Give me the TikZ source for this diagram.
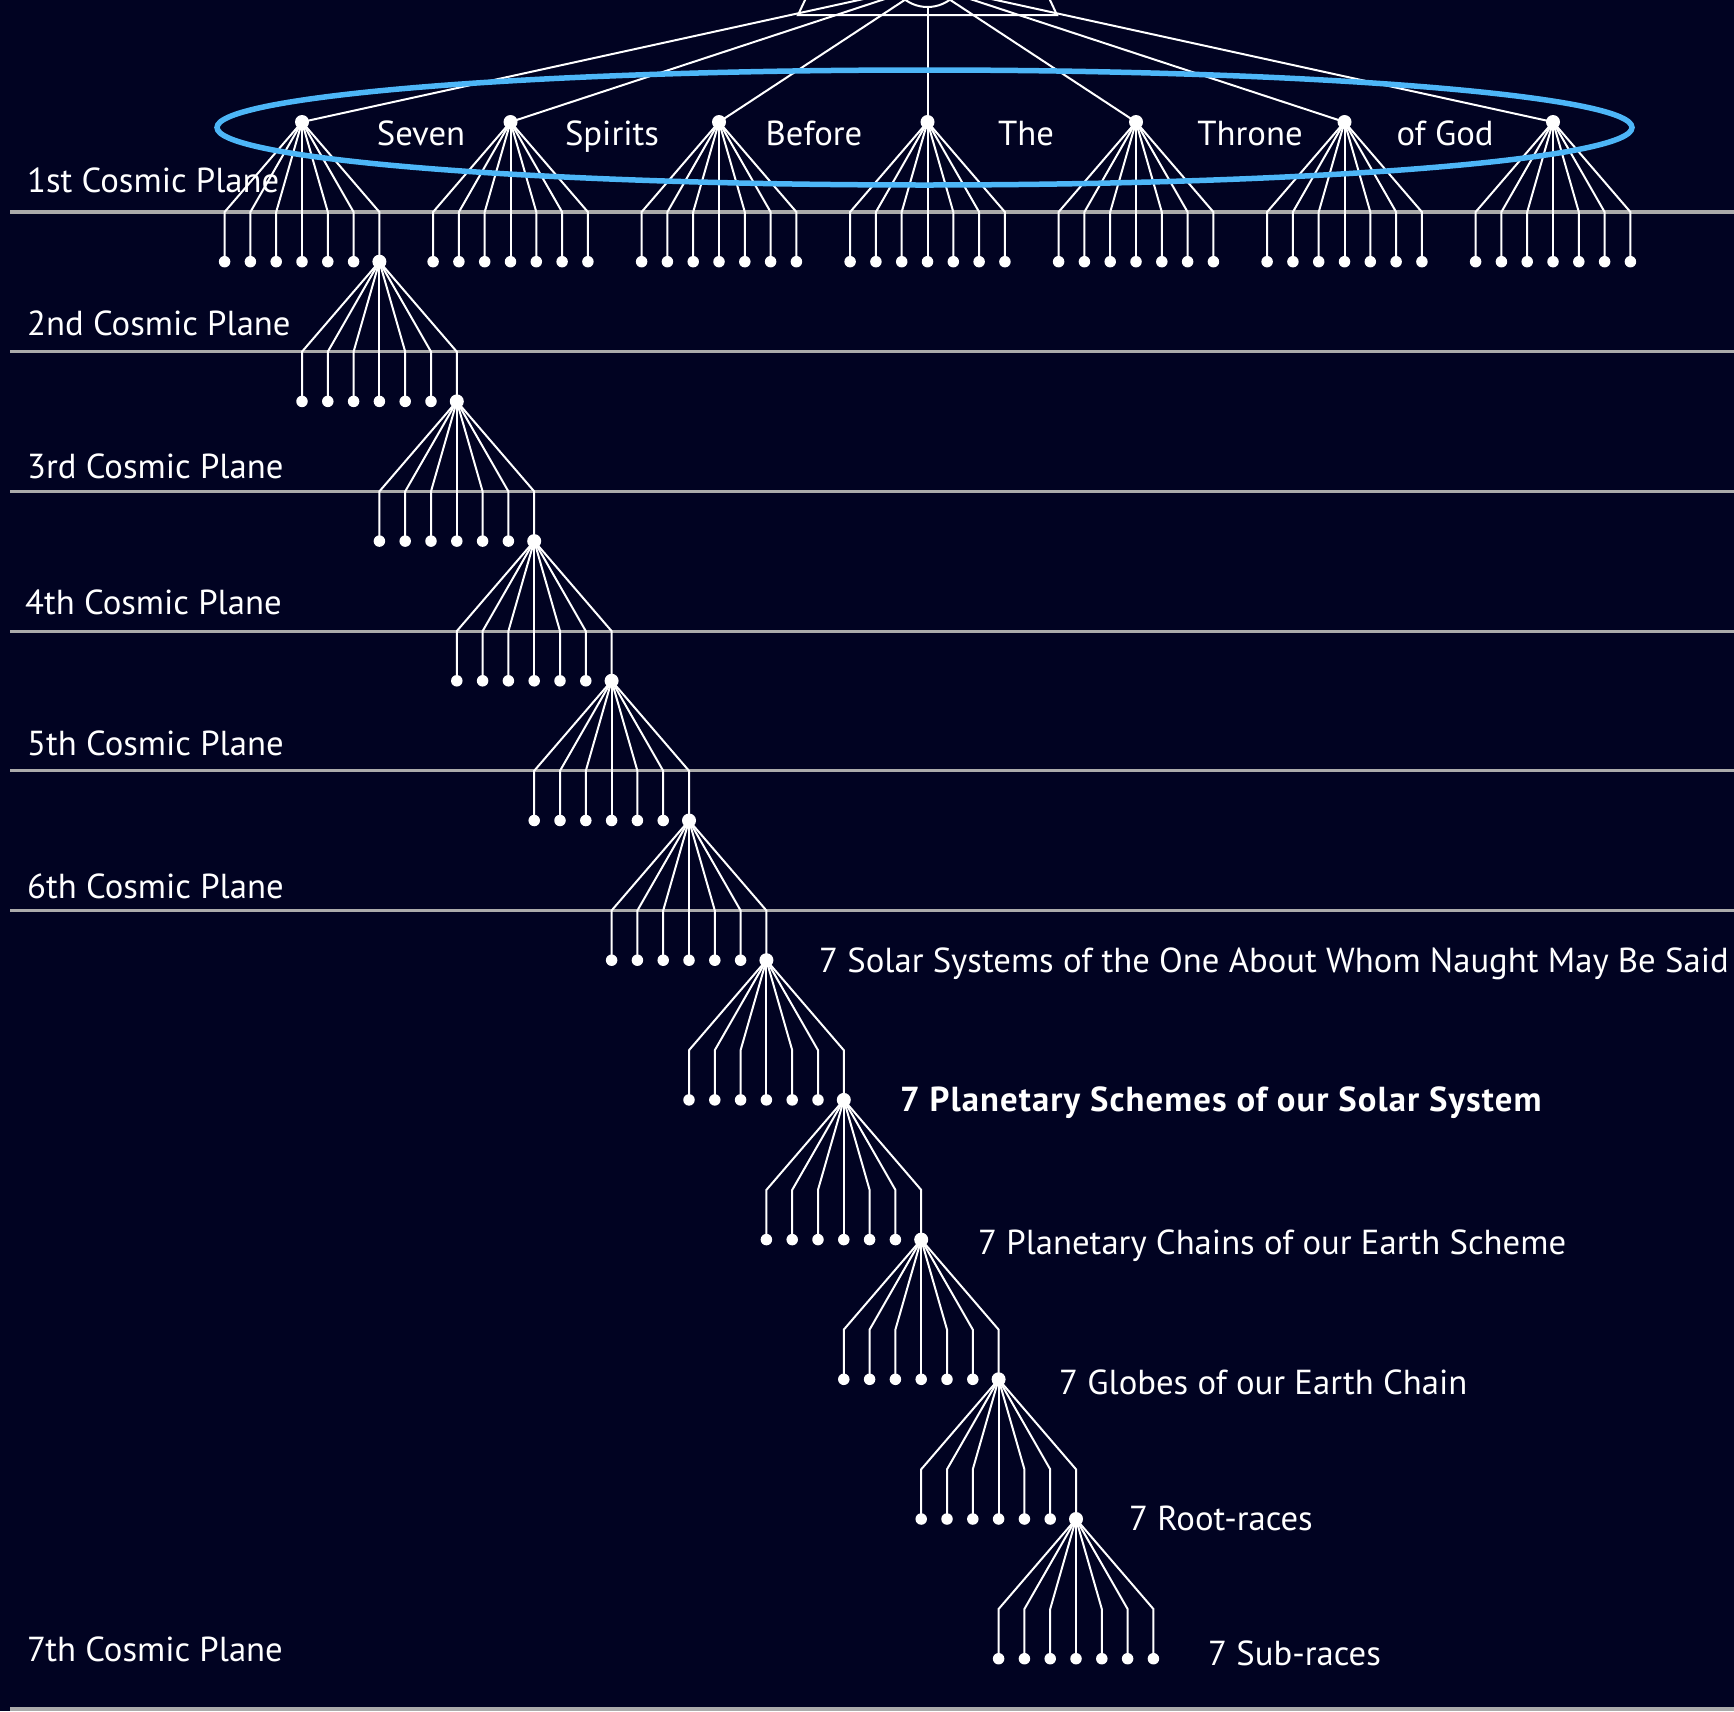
\documentclass[tikz,border=0pt]{standalone}
\usepackage{fontspec}
\setmainfont{PT Sans}
\newfontfamily\negrita{PT Sans}[LetterSpace=3.1]

\definecolor{fondo}{HTML}{010322}
\definecolor{celeste}{HTML}{4DB6F7}
\definecolor{gris}{HTML}{ABABAB}

\tikzset{
  punto/.style={circle, fill=white, inner sep=0pt, minimum size=11.5pt},
  vertice/.style={circle, fill=white, inner sep=0pt, minimum size=14pt},
  rama/.style={white, line width=2pt},
  plano/.style={gris, line width=3.2pt},
  etiqueta/.style={text=white, inner sep=0pt, font=\fontsize{34.7}{40}\selectfont},
}

% abanico de siete: #1 nombre, #2 x, #3 y del vertice
\newcommand{\abanico}[3]{%
  \node[vertice] (#1) at (#2,#3) {};
  \foreach \k in {1,...,7}{
    \pgfmathsetmacro{\xk}{#2+25.8*(\k-4)}
    \coordinate (#1-c\k) at (\xk,#3+90);
    \node[punto] (#1-\k) at (\xk,#3+139.7) {};
    \draw[rama] (#1.center) -- (#1-c\k) -- (#1-\k.center);
  }
}

\begin{document}
\begin{tikzpicture}[x=1pt, y=-1pt]

    % 1. Fondo
    \fill[fondo] (0,0) rectangle (1734,1711);
    \useasboundingbox (0,0) rectangle (1734,1711);
    \clip (0,0) rectangle (1734,1711);

    % 2. Planos cosmicos
    \foreach \n in {0,...,5}
      \draw[plano] (10,{212+139.7*\n}) -- (1734,{212+139.7*\n});
    \draw[plano] (10,1709) -- (1734,1709);

    % 3. Siete espiritus
    \foreach \i in {0,...,6}{
      \pgfmathsetmacro{\xi}{302+208.5*\i}
      \abanico{e\i}{\xi}{122}
    }

    % 4. Cadena hacia abajo
    \foreach \n in {1,...,10}{
      \pgfmathsetmacro{\xn}{302+77.4*\n}
      \pgfmathsetmacro{\yn}{122+139.7*\n}
      \abanico{n\n}{\xn}{\yn}
    }

    % 5. Rayos hacia el trono
    \coordinate (cima) at (927.5,-15);
    \foreach \i in {0,...,6}
      \draw[rama] (e\i.center) -- (cima);
    \draw[white, line width=2pt] (798,15) -- (1057,15) -- (927.5,-262) -- cycle;
    \node[circle, draw=white, fill=fondo, line width=2pt, minimum size=76pt, inner sep=0pt] (trono) at (927.5,-31) {};

    % 6. Elipse azul
    \draw[celeste, line width=5.5pt] (924.5,127.5) ellipse [x radius=707.5, y radius=57.5];

    % 7. Palabras dentro de la elipse
    \node[etiqueta, anchor=base] at (421,145) {Seven};
    \node[etiqueta, anchor=base] at (612,145) {Spirits};
    \node[etiqueta, anchor=base] at (814,145) {Before};
    \node[etiqueta, anchor=base] at (1026,145) {The};
    \node[etiqueta, anchor=base] at (1250,145) {Throne};
    \node[etiqueta, anchor=base] at (1445,145) {of God};

    % 8. Nombres de los planos
    \node[etiqueta, anchor=base west] at (27,192) {1st Cosmic Plane};
    \node[etiqueta, anchor=base west] at (27,335) {2nd Cosmic Plane};
    \node[etiqueta, anchor=base west] at (27,478) {3rd Cosmic Plane};
    \node[etiqueta, anchor=base west] at (25,614) {4th Cosmic Plane};
    \node[etiqueta, anchor=base west] at (27,755) {5th Cosmic Plane};
    \node[etiqueta, anchor=base west] at (27,898) {6th Cosmic Plane};
    \node[etiqueta, anchor=base west] at (27,1661) {7th Cosmic Plane};

    % 9. Niveles de la derecha
    \node[etiqueta, anchor=base west] at (819,972) {7 Solar Systems of the One About Whom Naught May Be Said};
    \node[etiqueta, anchor=base west] at (900,1111) {\negrita\bfseries 7 Planetary Schemes of our Solar System};
    \node[etiqueta, anchor=base west] at (978,1254) {7 Planetary Chains of our Earth Scheme};
    \node[etiqueta, anchor=base west] at (1059,1394) {7 Globes of our Earth Chain};
    \node[etiqueta, anchor=base west] at (1129,1530) {7 Root-races};
    \node[etiqueta, anchor=base west] at (1208,1665) {7 Sub-races};

\end{tikzpicture}
\end{document}
